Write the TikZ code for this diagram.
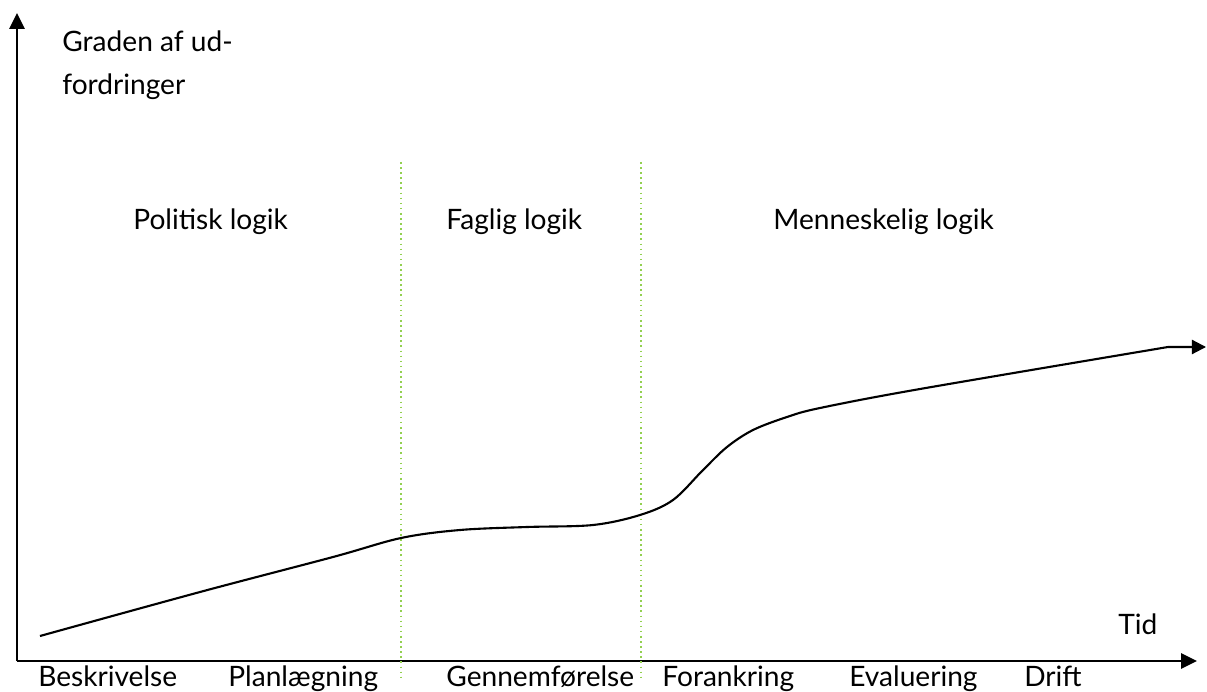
\documentclass[tikz,border=0pt]{standalone}
\usepackage{fontspec}
\setmainfont{Lato}
\usetikzlibrary{arrows.meta}

\tikzset{
  axis/.style={line width=1.4pt, -{Triangle[length=9pt,width=8.5pt]}},
  phase/.style={draw={rgb,255:red,146;green,208;blue,80}, line width=0.9pt, dotted},
  lbl/.style={anchor=base west, inner sep=0pt, font=\fontsize{16}{25}\selectfont},
}

\begin{document}
\begin{tikzpicture}
\useasboundingbox (0,0) rectangle (24.14,13.82);

% Axes
\coordinate (origin) at (0.34,0.6);
\coordinate (ytip) at (0.34,13.56);
\coordinate (xtip) at (23.94,0.6);
\draw[axis] (origin) -- (ytip);
\draw[axis] (origin) -- (xtip);

% Phase borders
\draw[phase] (8.02,10.58) -- (8.02,0.26);
\draw[phase] (12.82,10.58) -- (12.82,0.26);

% Axis labels
\node[lbl, anchor=north west, align=left] (grad) at (1.24,13.22) {Graden af ud-\\fordringer};
\node[lbl] (tid) at (22.36,1.14) {Tid};

% Logics
\node[lbl] (politisk) at (2.66,9.22) {Politisk logik};
\node[lbl] (faglig) at (8.92,9.22) {Faglig logik};
\node[lbl] (menneske) at (15.46,9.22) {Menneskelig logik};

% Phases along the time axis
\node[lbl] (beskr) at (0.76,0.1) {Beskrivelse};
\node[lbl] (plan) at (4.56,0.1) {Planlægning};
\node[lbl] (gennem) at (8.92,0.1) {Gennemførelse};
\node[lbl] (foran) at (13.24,0.1) {Forankring};
\node[lbl] (eval) at (16.98,0.1) {Evaluering};
\node[lbl] (drift) at (20.48,0.1) {Drift};

% Challenge curve
\draw[line width=1.2pt, -{Triangle[length=8pt,width=8pt]}]
  plot[smooth, tension=0.55] coordinates {
    (0.8,1.1) (4.0,1.98) (6.66,2.68) (8.02,3.06) (9.2,3.22) (10.54,3.28)
    (11.86,3.32) (12.8,3.52) (13.46,3.82) (14.06,4.42) (14.54,4.88)
    (15.06,5.22) (15.74,5.48) (16.4,5.66) (18.4,6.04) (23.36,6.88)}
  -- (24.12,6.88);

\end{tikzpicture}
\end{document}
